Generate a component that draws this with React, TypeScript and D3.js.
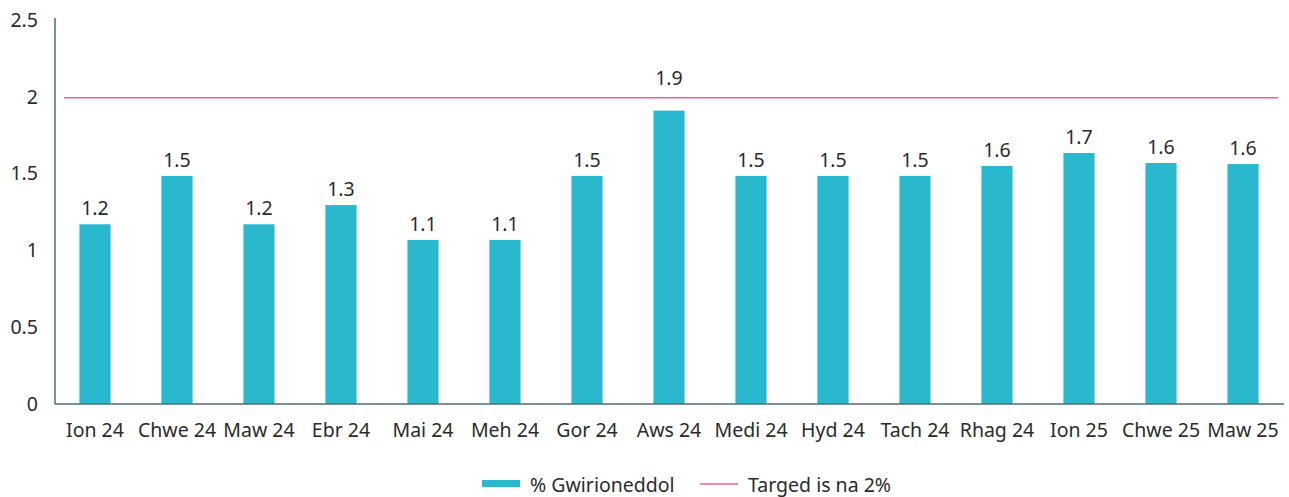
import React from "react";
import * as d3 from "d3";

const categories = ["Ion 24","Chwe 24","Maw 24","Ebr 24","Mai 24","Meh 24","Gor 24","Aws 24","Medi 24","Hyd 24","Tach 24","Rhag 24","Ion 25","Chwe 25","Maw 25"];
const actual = [1.17,1.485,1.17,1.295,1.068,1.068,1.485,1.91,1.485,1.485,1.485,1.55,1.634,1.569,1.562];
const valueLabels = ["1.2","1.5","1.2","1.3","1.1","1.1","1.5","1.9","1.5","1.5","1.5","1.6","1.7","1.6","1.6"];
const target = 2;
const yTicks = [0,0.5,1,1.5,2,2.5];
const legendLabels = ["% Gwirioneddol","Targed is na 2%"];

const W = 1289, H = 497;
const FONT = "'Noto Sans', 'Open Sans', sans-serif";
const BAR = "#2ab8ce";
const PINK = "#e2649e";
const AXIS = "#4f6b7d";
const TEXT = "#2b2b2b";
const FS = 19.5;

export default function App() {
  const x = d3.scaleBand<string>().domain(categories).range([54, 1284]).paddingInner(0.62).paddingOuter(0.31);
  const y = d3.scaleLinear().domain([0, 2.5]).range([404, 20]);
  const labelY = (v: number) => {
    const base = y(v) - 9;
    // move label above the target line if it would collide
    if (base > y(target) - 4 && base - 16 < y(target) + 4) return y(target) - 12;
    return base;
  };
  return (
    <svg width={W} height={H} style={{ position: "absolute", left: 0, top: 0, fontFamily: FONT }}>
      {yTicks.map((t) => (
        <text key={t} x={38} y={y(t)} dy="0.35em" textAnchor="end" fontSize={FS} fill={TEXT}>{t}</text>
      ))}
      {categories.map((c, i) => (
        <g key={c}>
          <rect x={x(c)} y={y(actual[i])} width={x.bandwidth()} height={y(0) - y(actual[i])} fill={BAR} />
          <text x={(x(c) as number) + x.bandwidth() / 2} y={labelY(actual[i])} textAnchor="middle" fontSize={FS} fill={TEXT}>{valueLabels[i]}</text>
          <text x={(x(c) as number) + x.bandwidth() / 2} y={437} textAnchor="middle" fontSize={FS} fill={TEXT}>{c}</text>
        </g>
      ))}
      <line x1={64} x2={1278} y1={y(target) + 1} y2={y(target) + 1} stroke={PINK} strokeWidth={1.5} />
      <line x1={55} x2={55} y1={18} y2={404} stroke={AXIS} strokeWidth={1.5} />
      <line x1={55} x2={1284} y1={404} y2={404} stroke={AXIS} strokeWidth={1.5} />
      <rect x={482} y={480} width={38} height={7} fill={BAR} />
      <text x={530} y={492} fontSize={FS} fill={TEXT}>{legendLabels[0]}</text>
      <line x1={700} x2={738} y1={484} y2={484} stroke={PINK} strokeWidth={1.5} />
      <text x={748} y={492} fontSize={FS} fill={TEXT}>{legendLabels[1]}</text>
    </svg>
  );
}
